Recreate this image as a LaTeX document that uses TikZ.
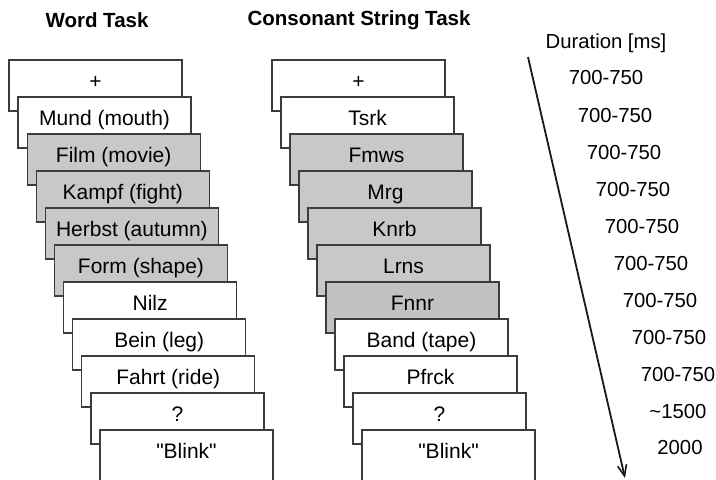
\documentclass[tikz,border=0pt]{standalone}
\usepackage{fontspec}
\setmainfont{Liberation Sans}
\usetikzlibrary{arrows.meta}
\definecolor{cardedge}{HTML}{3C3C3C}
\definecolor{cardgray}{HTML}{C8C8C8}
\definecolor{cardgraydk}{HTML}{C2C2C2}
\tikzset{
  card/.style={draw=cardedge, line width=1.3pt, fill=white, anchor=north west,
    minimum width=173pt, minimum height=51pt, inner sep=0pt, outer sep=0pt},
  graycard/.style={card, fill=cardgray},
  darkcard/.style={card, fill=cardgraydk},
  cardtext/.style={font=\fontsize{21pt}{24pt}\selectfont, inner sep=0pt, anchor=base},
  title/.style={font=\bfseries\fontsize{20.5pt}{24pt}\selectfont, inner sep=0pt, anchor=center},
  dur/.style={font=\fontsize{20.3pt}{24pt}\selectfont, inner sep=0pt, anchor=center},
  timearrow/.style={line width=1.8pt, draw=black!90, -{Straight Barb[length=11pt,width=9pt,line width=1.6pt]}}
}
\begin{document}
\begin{tikzpicture}[x=1pt, y=-1pt]
\useasboundingbox (0,0) rectangle (716,480);
\clip (0,0) rectangle (716,480);
\fill[white] (0,0) rectangle (716,480);

% column headings
\node[title] (hw) at (97,20) {Word Task};
\node[title] (hc) at (359,20) {Consonant String Task};
\node[dur] (hd) at (606,43) {Duration [ms]};

% word task trial sequence
\foreach \i/\txt/\sty in {0/+/card, 1/Mund (mouth)/card, 2/Film (movie)/graycard,
    3/Kampf (fight)/graycard, 4/Herbst (autumn)/graycard, 5/Form (shape)/graycard,
    6/Nilz/card, 7/Bein (leg)/card, 8/Fahrt (ride)/card, 9/?/card,
    10/\textquotedbl Blink\textquotedbl/card}{
  \node[\sty] (w\i) at ({9+9.1*\i},{60+37*\i}) {};
  \node[cardtext] (wt\i) at ([yshift=-28pt]w\i.north) {\txt};
}

% consonant string task trial sequence
\foreach \i/\txt/\sty in {0/+/card, 1/Tsrk/card, 2/Fmws/graycard,
    3/Mrg/graycard, 4/Knrb/graycard, 5/Lrns/graycard,
    6/Fnnr/darkcard, 7/Band (tape)/card, 8/Pfrck/card, 9/?/card,
    10/\textquotedbl Blink\textquotedbl/card}{
  \node[\sty] (c\i) at ({272+9*\i},{60+37*\i}) {};
  \node[cardtext] (ct\i) at ([yshift=-28pt]c\i.north) {\txt};
}

% durations
\foreach \i in {0,...,8}{
  \node[dur] (d\i) at ({606+9*\i},{78+37.1*\i}) {700-750};
}
\node[dur] (d9) at (678,412) {\textasciitilde 1500};
\node[dur] (d10) at (680,448) {2000};

% time axis
\coordinate (tstart) at (528,57);
\coordinate (tend) at (625,478);
\draw[timearrow] (tstart) -- (tend);
\end{tikzpicture}
\end{document}
